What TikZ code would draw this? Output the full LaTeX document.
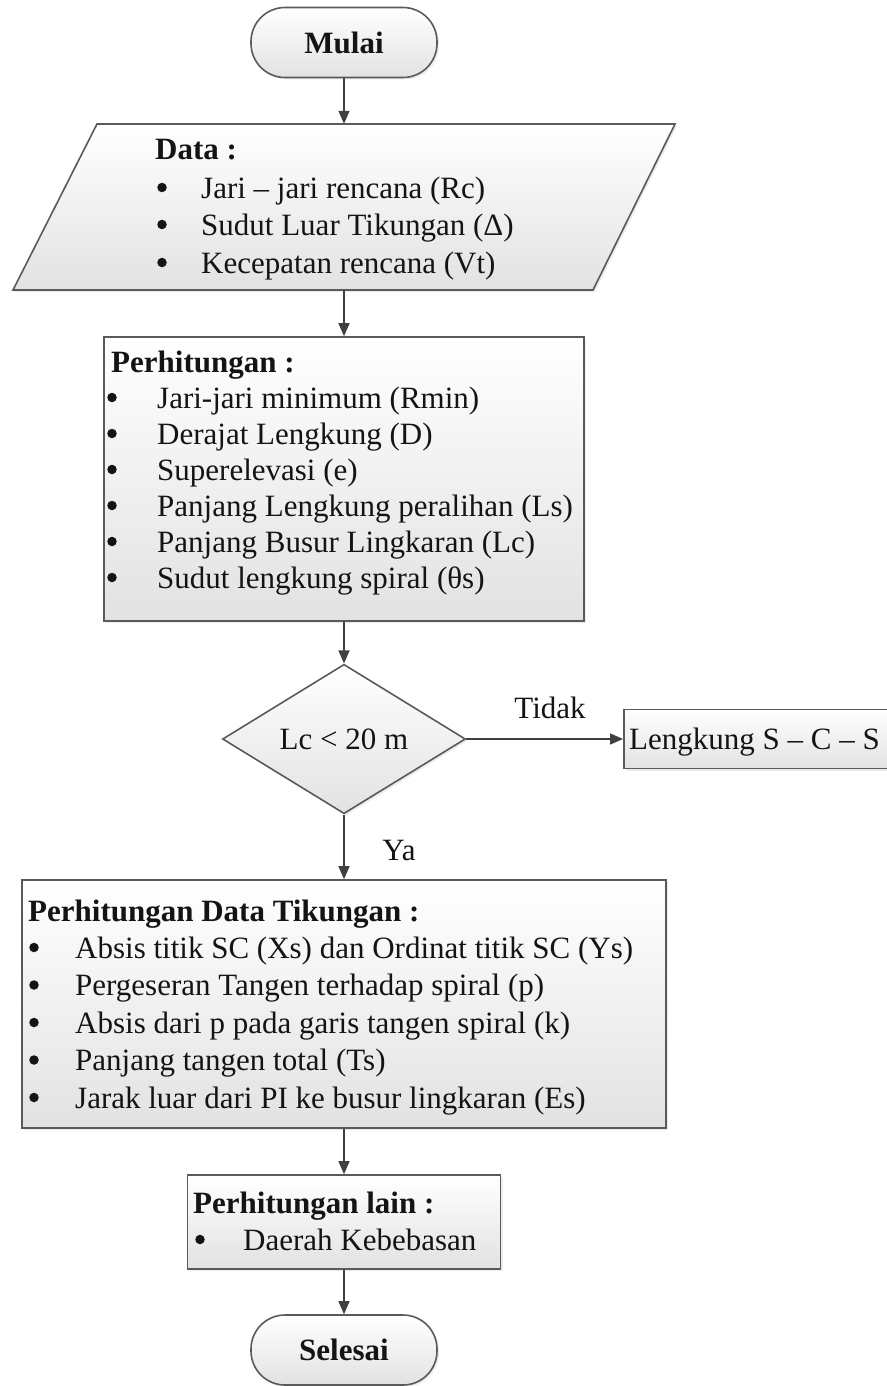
\documentclass[tikz,border=0pt]{standalone}
\usepackage{fontspec}
\setmainfont{Liberation Serif}
\usetikzlibrary{shapes.geometric,arrows.meta,shadows}
\definecolor{bord}{RGB}{90,90,90}
\definecolor{arr}{RGB}{64,64,64}
\definecolor{fbot}{RGB}{226,226,226}
\definecolor{ink}{RGB}{20,20,20}
\begin{document}
\begin{tikzpicture}[x=1pt,y=-1pt,
  box/.style={draw=bord, line width=1.6pt, top color=white, bottom color=fbot,
    drop shadow={opacity=0.15,shadow xshift=2pt,shadow yshift=-2pt}},
  term/.style={box, rounded corners=34pt, minimum width=186pt, minimum height=70pt,
    inner sep=0pt, text=ink, font=\fontsize{31}{37}\selectfont\bfseries},
  procbox/.style={box, inner sep=0pt},
  txt/.style={inner sep=0pt, anchor=base west, text=ink, font=\fontsize{31}{37}\selectfont},
  ttl/.style={inner sep=0pt, anchor=base west, text=ink, font=\fontsize{31}{37}\selectfont\bfseries},
  blt/.style={circle, fill=ink, inner sep=0pt, minimum size=9.5pt, yshift=10.5pt},
  conn/.style={draw=arr, line width=1.5pt, -{Triangle[length=13pt,width=11pt]}},
  lbl/.style={inner sep=0pt, text=ink, font=\fontsize{31}{37}\selectfont}
]
\useasboundingbox (0,0) rectangle (886,1386);

% start
\node[term] (start) at (344,42.5) {Mulai};

% data (parallelogram)
\filldraw[box] (97,124) -- (675,124) -- (593,290) -- (13,290) -- cycle;
\node[minimum width=580pt, minimum height=166pt, inner sep=0pt] (data) at (344,207) {};
\node[ttl] (d0) at (155,160) {Data :};
\node[blt] (db1) at (162,198) {};
\node[txt] (d1) at (201,198) {Jari – jari rencana (Rc)};
\node[blt] (db2) at (162,235) {};
\node[txt] (d2) at (201,235) {Sudut Luar Tikungan (Δ)};
\node[blt] (db3) at (162,273) {};
\node[txt] (d3) at (201,273) {Kecepatan rencana (Vt)};

% perhitungan
\node[procbox, minimum width=480pt, minimum height=284pt] (perh) at (344,479) {};
\node[ttl] (p0) at (111,372) {Perhitungan :};
\node[blt] (pb1) at (112,408) {};
\node[txt] (p1) at (157,408) {Jari-jari minimum (Rmin)};
\node[blt] (pb2) at (112,444) {};
\node[txt] (p2) at (157,444) {Derajat Lengkung (D)};
\node[blt] (pb3) at (112,480) {};
\node[txt] (p3) at (157,480) {Superelevasi (e)};
\node[blt] (pb4) at (112,516) {};
\node[txt] (p4) at (157,516) {Panjang Lengkung peralihan (Ls)};
\node[blt] (pb5) at (112,552) {};
\node[txt] (p5) at (157,552) {Panjang Busur Lingkaran (Lc)};
\node[blt] (pb6) at (112,588) {};
\node[txt] (p6) at (157,588) {Sudut lengkung spiral (θs)};

% decision
\node[diamond, box, minimum width=243pt, minimum height=142pt, inner sep=0pt,
  text=ink, font=\fontsize{31}{37}\selectfont] (dec) at (344,739) {Lc < 20 m};

% alternative
\node[procbox, minimum width=280pt, minimum height=59pt, anchor=west] (alt) at (623,739) {};
\node[txt] (altt) at (629,749) {Lengkung S – C – S};

% perhitungan data tikungan
\node[procbox, minimum width=644pt, minimum height=248pt] (tik) at (344,1004) {};
\node[ttl] (t0) at (28,921) {Perhitungan Data Tikungan :};
\node[blt] (tb1) at (34,958) {};
\node[txt] (t1) at (75,958) {Absis titik SC (Xs) dan Ordinat titik SC (Ys)};
\node[blt] (tb2) at (34,995.5) {};
\node[txt] (t2) at (75,995.5) {Pergeseran Tangen terhadap spiral (p)};
\node[blt] (tb3) at (34,1033) {};
\node[txt] (t3) at (75,1033) {Absis dari p pada garis tangen spiral (k)};
\node[blt] (tb4) at (34,1070.5) {};
\node[txt] (t4) at (75,1070.5) {Panjang tangen total (Ts)};
\node[blt] (tb5) at (34,1108) {};
\node[txt] (t5) at (75,1108) {Jarak luar dari PI ke busur lingkaran (Es)};

% perhitungan lain
\node[procbox, minimum width=313pt, minimum height=94pt] (lain) at (344,1222) {};
\node[ttl] (l0) at (193,1213) {Perhitungan lain :};
\node[blt] (lb1) at (200,1250) {};
\node[txt] (l1) at (243,1250) {Daerah Kebebasan};

% end
\node[term] (stop) at (344,1350) {Selesai};

% labels
\node[lbl] (tidak) at (550,708) {Tidak};
\node[lbl, anchor=base] (ya) at (399,860) {Ya};

% connectors
\draw[conn] (start) -- (data);
\draw[conn] (data) -- (perh);
\draw[conn] (perh) -- (dec);
\draw[conn] (dec) -- (alt);
\draw[conn] (dec) -- (tik);
\draw[conn] (tik) -- (lain);
\draw[conn] (lain) -- (stop);
\end{tikzpicture}
\end{document}
